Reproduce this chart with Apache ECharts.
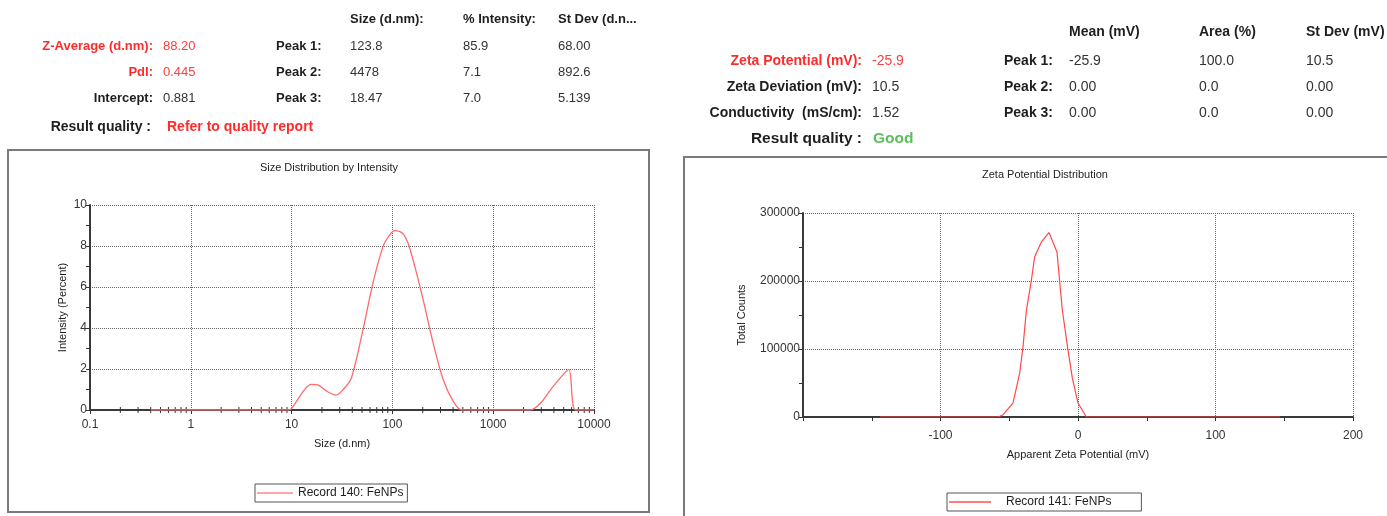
<!DOCTYPE html>
<html>
<head>
<meta charset="utf-8">
<script src="https://cdn.jsdelivr.net/npm/echarts@6/dist/echarts.min.js"></script>
<style>
  html, body { margin: 0; padding: 0; background: #fff; }
  #chart { width: 1387px; height: 516px; }
</style>
</head>
<body>
<div id="chart"></div>
<script>
// size distribution
const sizeNm = [0.4, 9.3, 10, 13.4, 15.6, 18.2, 22.8, 27.7, 32.2, 39, 51, 64, 80.7, 94, 105, 126, 143, 167, 202, 254, 320, 403, 488, 2340, 2940, 3700, 4650, 5630, 6560, 10000];
const sizeIntensity = [0, 0, 0.08, 0.98, 1.25, 1.22, 0.89, 0.73, 0.98, 1.54, 3.9, 6.18, 7.97, 8.54, 8.75, 8.62, 8.13, 6.99, 5.37, 3.25, 1.46, 0.41, 0, 0, 0.33, 0.98, 1.58, 1.98, 0, 0];

// zeta potential distribution
const zetaMv = [-144, -58, -54.5, -47.3, -42.4, -40, -37.5, -33.9, -31.5, -26.6, -21.1, -15.3, -11.4, -7.3, -4.1, 0, 6.1, 147];
const zetaCounts = [0, 0, 3400, 20500, 64500, 103500, 157300, 201300, 235500, 257500, 271200, 242800, 157300, 98700, 57200, 20500, 0, 0];

// minor ticks of the log axis
const logMinorTicks = [];
[0.1, 1, 10, 100, 1000].forEach(d => { for (let k = 2; k <= 9; k++) logMinorTicks.push(d * k); });

// tables
const sizeCols = ['Size (d.nm):', '% Intensity:', 'St Dev (d.n...'];
const sizeSummaryLabels = ['Z-Average (d.nm):', 'PdI:', 'Intercept:'];
const sizeSummaryValues = ['88.20', '0.445', '0.881'];
const sizePeakLabels = ['Peak 1:', 'Peak 2:', 'Peak 3:'];
const sizePeakSize = ['123.8', '4478', '18.47'];
const sizePeakInt = ['85.9', '7.1', '7.0'];
const sizePeakSd = ['68.00', '892.6', '5.139'];

const zetaCols = ['Mean (mV)', 'Area (%)', 'St Dev (mV)'];
const zetaSummaryLabels = ['Zeta Potential (mV):', 'Zeta Deviation (mV):', 'Conductivity  (mS/cm):'];
const zetaSummaryValues = ['-25.9', '10.5', '1.52'];
const zetaPeakLabels = ['Peak 1:', 'Peak 2:', 'Peak 3:'];
const zetaPeakMean = ['-25.9', '0.00', '0.00'];
const zetaPeakArea = ['100.0', '0.0', '0.0'];
const zetaPeakSd = ['10.5', '0.00', '0.00'];

const FONT = '"Liberation Sans", Arial, sans-serif';
const RED = '#ff2b2b';
const DARK = '#1e1e1e';

function txt(text, x, y, opt) {
  opt = opt || {};
  return {
    type: 'text',
    style: {
      text: text, x: x, y: y,
      font: (opt.bold ? 'bold ' : '') + (opt.size || 13) + 'px ' + FONT,
      fill: opt.color || DARK,
      align: opt.align || 'left',
      verticalAlign: 'middle'
    }
  };
}

const graphics = [];
// panels
graphics.push({ type: 'rect', shape: { x: 8, y: 150, width: 641, height: 362 }, style: { fill: 'none', stroke: '#7a7a7a', lineWidth: 2 } });
graphics.push({ type: 'rect', shape: { x: 684, y: 157, width: 720, height: 380 }, style: { fill: 'none', stroke: '#7a7a7a', lineWidth: 2 } });
graphics.push(txt('Size Distribution by Intensity', 329, 168, { size: 11, align: 'center' }));
graphics.push(txt('Zeta Potential Distribution', 1045, 175, { size: 11, align: 'center' }));

// left table
const lColX = [350, 463, 558];
const lRowY = [46, 72, 98];
sizeCols.forEach((c, i) => graphics.push(txt(c, lColX[i], 19, { bold: true })));
lRowY.forEach((y, r) => {
  const red = r < 2;
  graphics.push(txt(sizeSummaryLabels[r], 153, y, { bold: true, align: 'right', color: red ? RED : DARK }));
  graphics.push(txt(sizeSummaryValues[r], 163, y, { color: red ? '#ff4040' : '#333' }));
  graphics.push(txt(sizePeakLabels[r], 276, y, { bold: true }));
  graphics.push(txt(sizePeakSize[r], lColX[0], y, { color: '#333' }));
  graphics.push(txt(sizePeakInt[r], lColX[1], y, { color: '#333' }));
  graphics.push(txt(sizePeakSd[r], lColX[2], y, { color: '#333' }));
});
graphics.push(txt('Result quality :', 151, 127, { bold: true, size: 14, align: 'right' }));
graphics.push(txt('Refer to quality report', 167, 127, { bold: true, size: 14, color: RED }));

// right table
const rColX = [1069, 1199, 1306];
const rRowY = [61, 87, 113];
const RS = 14;
zetaCols.forEach((c, i) => graphics.push(txt(c, rColX[i], 32, { bold: true, size: RS })));
rRowY.forEach((y, r) => {
  const red = r === 0;
  graphics.push(txt(zetaSummaryLabels[r], 862, y, { bold: true, size: RS, align: 'right', color: red ? RED : DARK }));
  graphics.push(txt(zetaSummaryValues[r], 872, y, { size: RS, color: red ? '#ff4040' : '#333' }));
  graphics.push(txt(zetaPeakLabels[r], 1004, y, { bold: true, size: RS }));
  graphics.push(txt(zetaPeakMean[r], rColX[0], y, { size: RS, color: '#333' }));
  graphics.push(txt(zetaPeakArea[r], rColX[1], y, { size: RS, color: '#333' }));
  graphics.push(txt(zetaPeakSd[r], rColX[2], y, { size: RS, color: '#333' }));
});
graphics.push(txt('Result quality :', 862, 139, { bold: true, size: 15.5, align: 'right' }));
graphics.push(txt('Good', 873, 139, { bold: true, size: 15.5, color: '#5cbf5c' }));

const axisLine = { show: true, onZero: false, lineStyle: { color: '#3a3a3a', width: 2 } };
const split = { show: true, lineStyle: { color: '#666', type: 'dotted', width: 1 } };
const label = { color: '#333', fontSize: 12, fontFamily: FONT };
const nameStyle = { color: '#222', fontSize: 11, fontFamily: FONT };

const chart = echarts.init(document.getElementById('chart'));
chart.setOption({
  animation: false,
  textStyle: { fontFamily: FONT },
  graphic: graphics,
  grid: [
    { left: 90, right: 793, top: 205, bottom: 106 },
    { left: 803, right: 34, top: 213, bottom: 99 }
  ],
  legend: [
    {
      data: [{ name: 'Record 140: FeNPs', icon: 'rect', itemStyle: { color: '#ffa4a4' } }],
      left: 255, top: 484,
      borderColor: '#555', borderWidth: 1, padding: [3, 4, 3, 2],
      itemWidth: 36, itemHeight: 2, textStyle: { fontSize: 12, color: '#222' }
    },
    {
      data: [{ name: 'Record 141: FeNPs', icon: 'rect', itemStyle: { color: '#ff5050' } }],
      left: 947, top: 493,
      borderColor: '#555', borderWidth: 1, padding: [3, 30, 3, 2],
      itemWidth: 42, itemHeight: 1.5, textStyle: { fontSize: 12, color: '#222', padding: [0, 0, 0, 10] }
    }
  ],
  xAxis: [
    {
      gridIndex: 0, type: 'log', logBase: 10, min: 0.1, max: 10000,
      name: 'Size (d.nm)', nameLocation: 'middle', nameGap: 28, nameTextStyle: nameStyle,
      axisLine: axisLine,
      axisTick: { show: true, length: 4, lineStyle: { color: '#333' } },
      axisLabel: Object.assign({ margin: 9, formatter: v => String(v) }, label),
      splitLine: split
    },
    {
      gridIndex: 1, type: 'value', min: -200, max: 200, interval: 100,
      name: 'Apparent Zeta Potential (mV)', nameLocation: 'middle', nameGap: 32, nameTextStyle: nameStyle,
      axisLine: axisLine,
      axisTick: { show: true, length: 4, lineStyle: { color: '#333' } },
      minorTick: { show: true, splitNumber: 2, length: 4, lineStyle: { color: '#333' } },
      axisLabel: Object.assign({ margin: 13, formatter: v => (v === -200 ? '' : String(v)) }, label),
      splitLine: split
    }
  ],
  yAxis: [
    {
      gridIndex: 0, type: 'value', min: 0, max: 10, interval: 2,
      name: 'Intensity (Percent)', nameLocation: 'middle', nameGap: 22, nameTextStyle: nameStyle,
      axisLine: axisLine,
      axisTick: { show: true, length: 4, lineStyle: { color: '#333' } },
      minorTick: { show: true, splitNumber: 2, length: 4, lineStyle: { color: '#333' } },
      axisLabel: Object.assign({ margin: 3 }, label),
      splitLine: split
    },
    {
      gridIndex: 1, type: 'value', min: 0, max: 300000, interval: 100000,
      name: 'Total Counts', nameLocation: 'middle', nameGap: 56, nameTextStyle: nameStyle,
      axisLine: axisLine,
      axisTick: { show: true, length: 4, lineStyle: { color: '#333' } },
      minorTick: { show: true, splitNumber: 2, length: 4, lineStyle: { color: '#333' } },
      axisLabel: Object.assign({ margin: 3, formatter: v => String(v) }, label),
      splitLine: split
    }
  ],
  series: [
    {
      name: 'Record 140: FeNPs', type: 'line', xAxisIndex: 0, yAxisIndex: 0,
      data: sizeNm.map((x, i) => [x, sizeIntensity[i]]),
      showSymbol: false, symbol: 'none', smooth: 0.3, z: 5,
      lineStyle: { color: '#ff6a6a', width: 1.3 }, itemStyle: { color: '#ff6a6a' }
    },
    {
      // minor ticks of the log axis, placed through the axis scale
      type: 'custom', xAxisIndex: 0, yAxisIndex: 0, silent: true, z: 4,
      data: logMinorTicks.map(v => [v, 0]),
      renderItem: (params, api) => {
        const p = api.coord([api.value(0), 0]);
        return { type: 'line', shape: { x1: p[0], y1: p[1] - 3, x2: p[0], y2: p[1] + 3 }, style: { stroke: '#333', lineWidth: 1 } };
      }
    },
    {
      name: 'Record 141: FeNPs', type: 'line', xAxisIndex: 1, yAxisIndex: 1,
      data: zetaMv.map((x, i) => [x, zetaCounts[i]]),
      showSymbol: false, symbol: 'none', z: 5,
      lineStyle: { color: '#ff4848', width: 1.2 }, itemStyle: { color: '#ff4848' }
    }
  ]
});
</script>
</body>
</html>
